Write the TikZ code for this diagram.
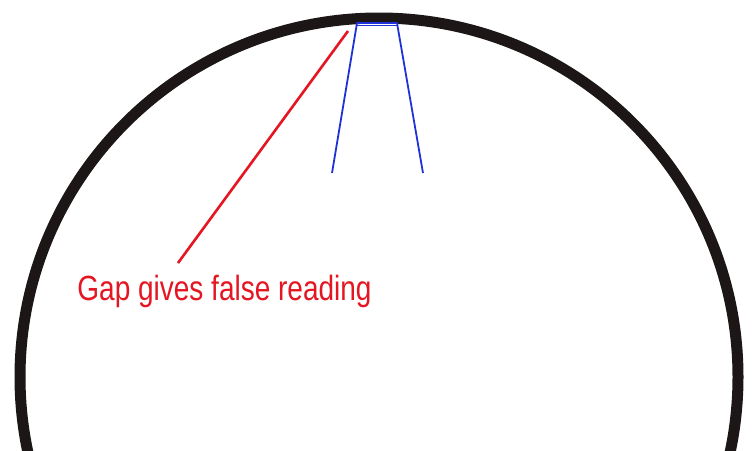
\documentclass[tikz,border=0pt]{standalone}
\usepackage{fontspec}
\setmainfont{Liberation Sans}
\definecolor{ringc}{RGB}{28,22,22}
\definecolor{gaugec}{RGB}{30,50,215}
\definecolor{labelc}{RGB}{228,22,34}
\tikzset{
  ring/.style={draw=ringc, line width=11pt},
  gauge/.style={draw=gaugec, line width=1.8pt, line join=round},
  pointer/.style={draw=labelc, line width=2.6pt},
  label/.style={text=labelc, font=\fontsize{35}{40}\selectfont, inner sep=0pt, anchor=base, xscale=0.8, transform shape}
}
\begin{document}
\begin{tikzpicture}[x=1pt,y=-1pt]
  \useasboundingbox (0,0) rectangle (752,450);
  \begin{scope}
    \clip (0,0) rectangle (752,450);
    \draw[ring] (379,377) circle[radius=359];
  \end{scope}
  % gauge
  \coordinate (gl) at (332,173);
  \coordinate (gtl) at (357,23);
  \coordinate (gtr) at (397,23);
  \coordinate (gr) at (423,173);
  \draw[gauge] (gl) -- (gtl) -- (gtr) -- (gr);
  \draw[gauge, line width=1pt] (357,25.5) -- (397,25.5);
  % label
  \node[label] (lab) at (224.5,300) {Gap gives false reading};
  \coordinate (tip) at (348,31);
  \coordinate (tail) at (178,263);
  \draw[pointer] (tip) -- (tail);
\end{tikzpicture}
\end{document}
